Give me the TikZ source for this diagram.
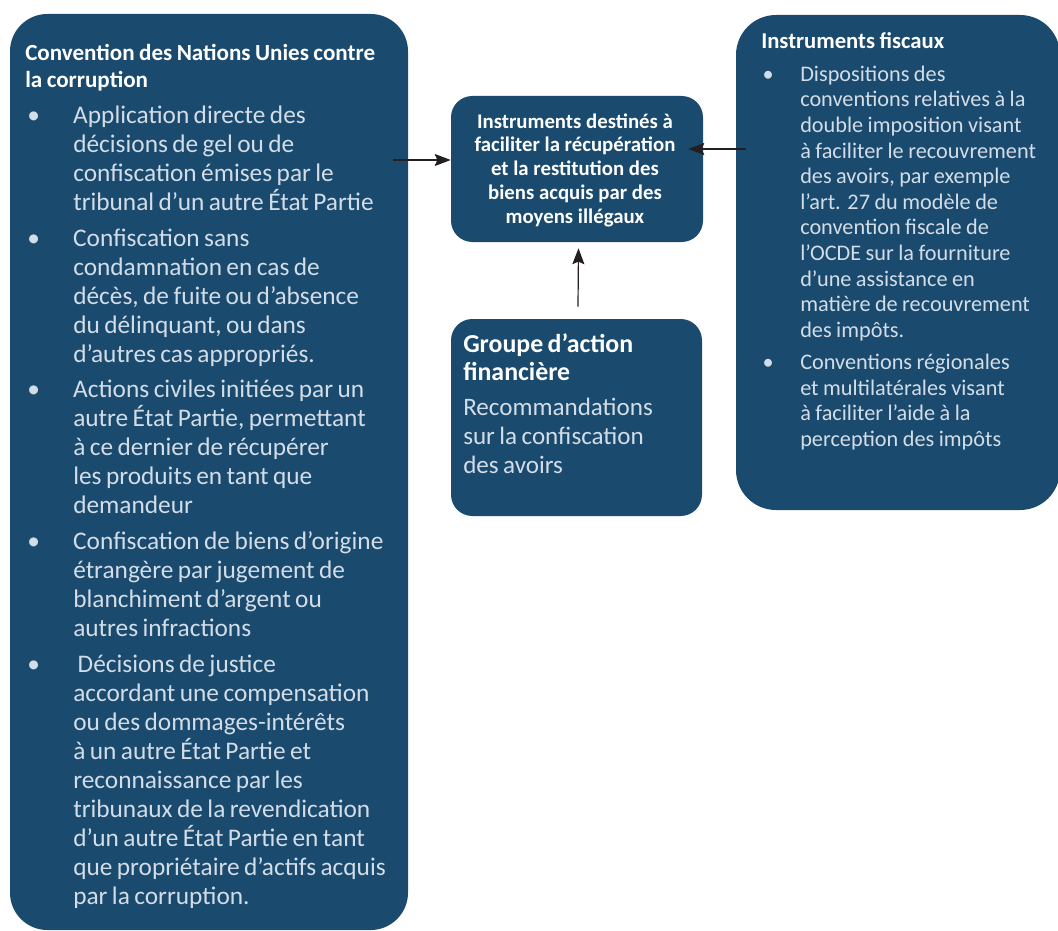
\documentclass[tikz,border=0pt]{standalone}
\usepackage{fontspec}
\setmainfont{Carlito}
\usetikzlibrary{arrows.meta, positioning, fit, calc}
\definecolor{panelblue}{HTML}{1A4A6E}
\definecolor{bodygrey}{HTML}{D3DDE7}
\definecolor{arrowdark}{HTML}{231F20}

\newcommand\pxfont[2]{\fontsize{#1}{#2}\selectfont}
\newlength\bulhang
\newlength\bullead
\newcommand\bitem[1]{\par\vspace{5pt}\noindent\hangindent=\bulhang\hangafter=1%
  \hspace*{\bullead}\makebox[\dimexpr\bulhang-\bullead\relax][l]{\textbullet}#1\par}

\begin{document}
\begin{tikzpicture}[
    x=0.75pt, y=-0.75pt,
    panel/.style = {rectangle, fill=panelblue, inner sep=0pt},
    txt/.style   = {inner sep=0pt, align=left, anchor=base west},
    arr/.style   = {-{Stealth[length=12pt, width=9pt, inset=2pt]}, line width=0.9pt, draw=arrowdark}
  ]
  \useasboundingbox (0,0) rectangle (1058,931);

  % Panels
  \node[panel, rounded corners=28pt, fit={(10,14) (408,930)}]  (unca) {};
  \node[panel, rounded corners=30pt, fit={(736,15) (1060,510)}] (fisc) {};
  \node[panel, rounded corners=16pt, fit={(451,319) (702,516)}] (gafi) {};
  \node[panel, rounded corners=16pt, fit={(451,96) (703,242)}]  (goal) {};

  % Instruments destines a faciliter...
  \node[inner sep=0pt, text=white, align=center, font=\pxfont{15.6}{17.8}\bfseries] (goal-txt)
    at ($(goal.center)+(-2,1)$)
    {Instruments destinés à\\faciliter la récupération\\et la restitution des\\biens acquis par des\\moyens illégaux};

  % Convention des Nations Unies
  \node[txt, text width=300pt] (unca-txt) at (25,61) {%
    {\pxfont{17.3}{20.25}\bfseries\color{white}Convention des Nations Unies contre\newline la corruption\par}
    \pxfont{19}{21.75}\color{bodygrey}\setlength\bulhang{36pt}\setlength\bullead{1.5pt}%
    \bitem{Application directe des\newline décisions de gel ou de\newline confiscation émises par le\newline tribunal d’un autre État Partie}
    \bitem{Confiscation sans\newline condamnation en cas de\newline décès, de fuite ou d’absence\newline du délinquant, ou dans\newline d’autres cas appropriés.}
    \bitem{Actions civiles initiées par un\newline autre État Partie, permettant\newline à ce dernier de récupérer\newline les produits en tant que\newline demandeur}
    \bitem{Confiscation de biens d’origine\newline étrangère par jugement de\newline blanchiment d’argent ou\newline autres infractions}
    \bitem{\ Décisions de justice\newline accordant une compensation\newline ou des dommages-intérêts\newline à un autre État Partie et\newline reconnaissance par les\newline tribunaux de la revendication\newline d’un autre État Partie en tant\newline que propriétaire d’actifs acquis\newline par la corruption.}
  };

  % Instruments fiscaux
  \node[txt, text width=240pt] (fisc-txt) at (761,49) {%
    {\pxfont{17}{19}\bfseries\color{white}Instruments fiscaux\par}
    \pxfont{16.7}{19.2}\color{bodygrey}\setlength\bulhang{29.25pt}\setlength\bullead{1pt}%
    \bitem{Dispositions des\newline conventions relatives à la\newline double imposition visant\newline à faciliter le recouvrement\newline des avoirs, par exemple\newline l’art. 27 du modèle de\newline convention fiscale de\newline l’OCDE sur la fourniture\newline d’une assistance en\newline matière de recouvrement\newline des impôts.}
    \bitem{Conventions régionales\newline et multilatérales visant\newline à faciliter l’aide à la\newline perception des impôts}
  };

  % Groupe d'action financiere
  \node[txt, text width=180pt] (gafi-txt) at (463,352) {%
    {\pxfont{19.4}{21}\bfseries\color{white}Groupe d’action\newline financière\par}
    \vspace{4.5pt}\pxfont{18.8}{21.75}\color{bodygrey}Recommandations\newline sur la confiscation\newline des avoirs\par
  };

  % Arrows
  \draw[arr] ($(unca.east |- goal.west)+(-15,-9)$) -- ($(goal.west)+(0,-9)$);
  \draw[arr] ($(fisc.west |- goal.east)+(10,-20)$) -- ($(goal.east)+(-15,-20)$);
  \draw[arr] ($(gafi.north)+(1.5,-12)$) -- ($(goal.south)+(1.5,6)$);
\end{tikzpicture}
\end{document}
